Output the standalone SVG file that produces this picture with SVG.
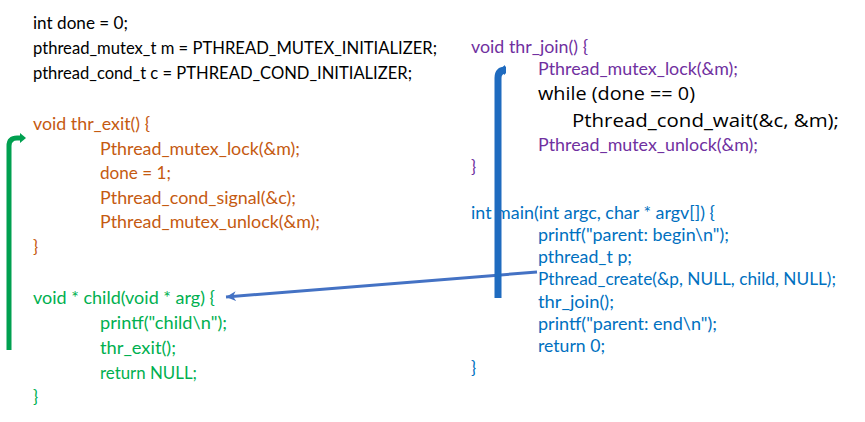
<svg xmlns="http://www.w3.org/2000/svg" width="865" height="422" viewBox="0 0 865 422">
<style>
text{font-family:Lato,"Liberation Sans",sans-serif;font-size:17px}
.k{fill:#000000}
.o{fill:#C55A11}
.g{fill:#00B050}
.p{fill:#7030A0}
.b{fill:#0070C0}
.big{font-family:"Open Sans","DejaVu Sans",sans-serif;font-size:18px;fill:#000000}
.gl{fill:none;stroke:#00A050;stroke-width:5}
.bl{fill:none;stroke:#1F6BBF;stroke-width:7}
.tl{fill:none;stroke:#4472C4;stroke-width:3}
</style>
<defs>
<marker id="ag" markerUnits="userSpaceOnUse" markerWidth="8" markerHeight="12" refX="1" refY="6" orient="auto" viewBox="0 0 8 12">
<path d="M0,1 L6,6 L0,11 Z" fill="#00A050"/>
</marker>
<marker id="ab" markerUnits="userSpaceOnUse" markerWidth="8" markerHeight="12" refX="1" refY="6" orient="auto" viewBox="0 0 8 12">
<path d="M0,1 L6,6 L0,11 Z" fill="#1F6BBF"/>
</marker>
<marker id="at" markerUnits="userSpaceOnUse" markerWidth="12" markerHeight="12" refX="10" refY="6" orient="auto" viewBox="0 0 12 12">
<path d="M0,1 L10,6 L0,11 L3,6 Z" fill="#4472C4"/>
</marker>
</defs>
<rect width="865" height="422" fill="#ffffff"/>
<g id="globals" class="k">
<text x="33" y="29" textLength="95" lengthAdjust="spacingAndGlyphs">int done = 0;</text>
<text x="33" y="54" textLength="404" lengthAdjust="spacingAndGlyphs">pthread_mutex_t m = PTHREAD_MUTEX_INITIALIZER;</text>
<text x="33" y="78.5" textLength="379" lengthAdjust="spacingAndGlyphs">pthread_cond_t c = PTHREAD_COND_INITIALIZER;</text>
</g>
<g id="thr_exit" class="o">
<text x="33" y="130" textLength="117" lengthAdjust="spacingAndGlyphs">void thr_exit() {</text>
<text x="100" y="155" textLength="200" lengthAdjust="spacingAndGlyphs">Pthread_mutex_lock(&amp;m);</text>
<text x="100" y="179" textLength="71" lengthAdjust="spacingAndGlyphs">done = 1;</text>
<text x="100" y="203.5" textLength="196" lengthAdjust="spacingAndGlyphs">Pthread_cond_signal(&amp;c);</text>
<text x="100" y="228" textLength="220" lengthAdjust="spacingAndGlyphs">Pthread_mutex_unlock(&amp;m);</text>
<text x="33" y="252.5">}</text>
</g>
<g id="child" class="g">
<text x="33" y="304" textLength="182" lengthAdjust="spacingAndGlyphs">void * child(void * arg) {</text>
<text x="100" y="329" textLength="127" lengthAdjust="spacingAndGlyphs">printf("child\n");</text>
<text x="100" y="354" textLength="76" lengthAdjust="spacingAndGlyphs">thr_exit();</text>
<text x="100" y="378.5" textLength="97" lengthAdjust="spacingAndGlyphs">return NULL;</text>
<text x="33" y="403">}</text>
</g>
<g id="thr_join">
<text class="p" x="471" y="53" textLength="117" lengthAdjust="spacingAndGlyphs">void thr_join() {</text>
<text class="p" x="538" y="75" textLength="200" lengthAdjust="spacingAndGlyphs">Pthread_mutex_lock(&amp;m);</text>
<text class="big" x="538" y="100" textLength="157" lengthAdjust="spacingAndGlyphs">while (done == 0)</text>
<text class="big" x="572" y="127" textLength="267" lengthAdjust="spacingAndGlyphs">Pthread_cond_wait(&amp;c, &amp;m);</text>
<text class="p" x="538" y="151" textLength="220" lengthAdjust="spacingAndGlyphs">Pthread_mutex_unlock(&amp;m);</text>
<text class="p" x="471" y="173">}</text>
</g>
<g id="main" class="b">
<text x="471" y="218.5" textLength="244" lengthAdjust="spacingAndGlyphs">int main(int argc, char * argv[]) {</text>
<text x="538" y="240.5" textLength="191" lengthAdjust="spacingAndGlyphs">printf("parent: begin\n");</text>
<text x="538" y="262.5" textLength="94" lengthAdjust="spacingAndGlyphs">pthread_t p;</text>
<text x="538" y="285" textLength="298" lengthAdjust="spacingAndGlyphs">Pthread_create(&amp;p, NULL, child, NULL);</text>
<text x="538" y="307.5" textLength="76" lengthAdjust="spacingAndGlyphs">thr_join();</text>
<text x="538" y="329.5" textLength="179" lengthAdjust="spacingAndGlyphs">printf("parent: end\n");</text>
<text x="538" y="351.5" textLength="67" lengthAdjust="spacingAndGlyphs">return 0;</text>
<text x="471" y="373.5">}</text>
</g>
<g id="connectors">
<path class="tl" d="M537,272 L226,297" marker-end="url(#at)"/>
<path class="gl" d="M9,350 L9,146 Q9,138 17,138 L21,138" marker-end="url(#ag)"/>
<path class="bl" d="M498,298 L498,78 Q498,70 506,70 L504,70" marker-end="url(#ab)"/>
</g>
</svg>
